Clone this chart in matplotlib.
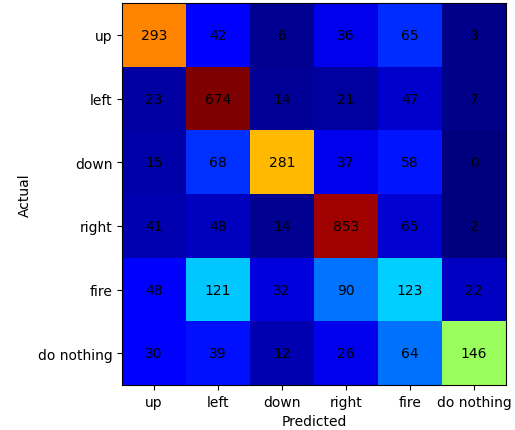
import numpy as np
import matplotlib
matplotlib.use("Agg")
import matplotlib.pyplot as plt

labels = ["up", "left", "down", "right", "fire", "do nothing"]
counts = np.array([
    [293, 42, 6, 36, 65, 3],
    [23, 674, 14, 21, 47, 7],
    [15, 68, 281, 37, 58, 0],
    [41, 48, 14, 853, 65, 2],
    [48, 121, 32, 90, 123, 22],
    [30, 39, 12, 26, 64, 146],
])

# colour by row-normalised rate, annotate with raw counts
rates = counts / counts.sum(axis=1, keepdims=True)

fig = plt.figure(figsize=(5.15, 4.31), dpi=100)
ax = fig.add_axes([0.237, 0.1044, 0.7456, 0.886])
ax.imshow(rates, cmap="jet", aspect="auto")

for i in range(len(labels)):
    for j in range(len(labels)):
        ax.text(j, i, str(counts[i, j]), ha="center", va="center", color="black")

ax.set_xticks(range(len(labels)))
ax.set_xticklabels(labels)
ax.set_yticks(range(len(labels)))
ax.set_yticklabels(labels)
ax.set_xlabel("Predicted")
ax.set_ylabel("Actual")

fig.savefig("out.png", dpi=100)
